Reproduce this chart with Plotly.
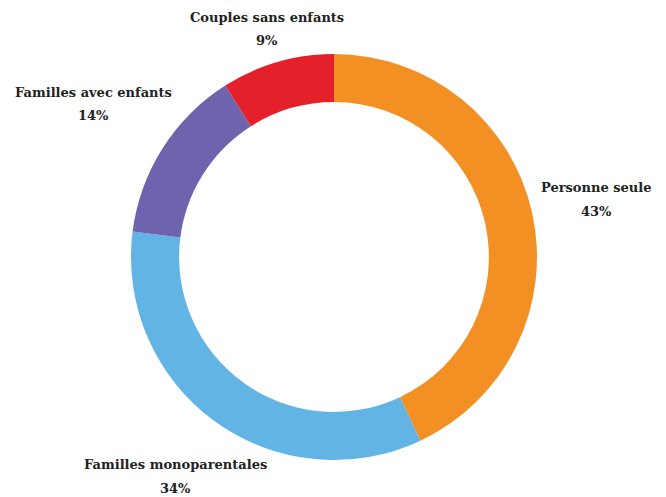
import plotly.graph_objects as go

labels = ["Personne seule", "Familles monoparentales", "Familles avec enfants", "Couples sans enfants"]
values = [43, 34, 14, 9]
colors = ["#F29024", "#62B4E4", "#6E64AD", "#E4202B"]

# label placement (pixel centers of each two-line label block, page offset compensated)
label_px = [(588, 191), (168, 468), (85, 96), (259, 21)]

W, H = 666, 497
cx, cy, R = 326, 249, 203
LINE_GAP = 12

fig = go.Figure(go.Pie(
    labels=labels,
    values=values,
    hole=0.763,
    sort=False,
    direction="clockwise",
    rotation=0,
    marker=dict(colors=colors, line=dict(width=0)),
    textinfo="none",
    showlegend=False,
    hoverinfo="skip",
    domain=dict(x=[(cx - R) / W, (cx + R) / W], y=[1 - (cy + R) / H, 1 - (cy - R) / H]),
))

font = dict(family="DejaVu Serif", size=13, color="#222222")
for lab, val, (px, py) in zip(labels, values, label_px):
    for txt, dy in ((f"<b>{lab}</b>", -LINE_GAP), (f"<b>{val}%</b>", LINE_GAP)):
        fig.add_annotation(
            x=px / W, y=1 - (py + dy) / H, xref="paper", yref="paper",
            text=txt, showarrow=False, xanchor="center", yanchor="middle",
            font=font, align="center",
        )

fig.update_layout(
    width=W, height=H,
    margin=dict(l=0, r=0, t=0, b=0),
    paper_bgcolor="white",
    plot_bgcolor="white",
)

fig.write_html("out.html")
